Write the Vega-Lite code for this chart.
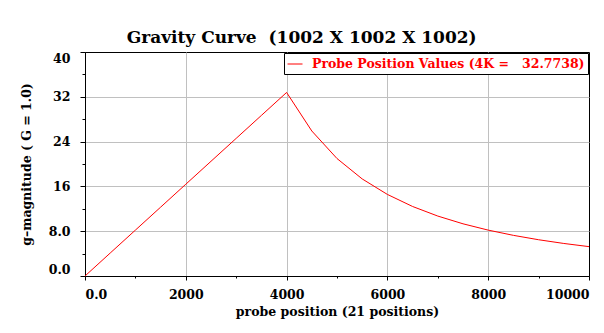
{
  "$schema": "https://vega.github.io/schema/vega-lite/v6.json",
  "autosize": {"type": "none"},
  "padding": {"left": 85, "top": 52, "right": 15, "bottom": 57},
  "width": 504,
  "height": 224,
  "background": "white",
  "title": {
    "text": "Gravity Curve\u00a0 (1002 X 1002 X 1002)",
    "font": "DejaVu Serif",
    "fontSize": 17,
    "fontWeight": "bold",
    "color": "black",
    "anchor": "middle",
    "frame": "bounds",
    "offset": 5,
    "dx": -4
  },
  "data": {
    "values": [
      {"position": 0, "g": 0.0, "series": "Probe Position Values (4K =\u00a0\u00a0 32.7738)"},
      {"position": 500, "g": 4.097, "series": "Probe Position Values (4K =\u00a0\u00a0 32.7738)"},
      {"position": 1000, "g": 8.193, "series": "Probe Position Values (4K =\u00a0\u00a0 32.7738)"},
      {"position": 1500, "g": 12.290, "series": "Probe Position Values (4K =\u00a0\u00a0 32.7738)"},
      {"position": 2000, "g": 16.387, "series": "Probe Position Values (4K =\u00a0\u00a0 32.7738)"},
      {"position": 2500, "g": 20.484, "series": "Probe Position Values (4K =\u00a0\u00a0 32.7738)"},
      {"position": 3000, "g": 24.580, "series": "Probe Position Values (4K =\u00a0\u00a0 32.7738)"},
      {"position": 3500, "g": 28.677, "series": "Probe Position Values (4K =\u00a0\u00a0 32.7738)"},
      {"position": 4000, "g": 32.7738, "series": "Probe Position Values (4K =\u00a0\u00a0 32.7738)"},
      {"position": 4500, "g": 25.895, "series": "Probe Position Values (4K =\u00a0\u00a0 32.7738)"},
      {"position": 5000, "g": 20.975, "series": "Probe Position Values (4K =\u00a0\u00a0 32.7738)"},
      {"position": 5500, "g": 17.335, "series": "Probe Position Values (4K =\u00a0\u00a0 32.7738)"},
      {"position": 6000, "g": 14.566, "series": "Probe Position Values (4K =\u00a0\u00a0 32.7738)"},
      {"position": 6500, "g": 12.411, "series": "Probe Position Values (4K =\u00a0\u00a0 32.7738)"},
      {"position": 7000, "g": 10.702, "series": "Probe Position Values (4K =\u00a0\u00a0 32.7738)"},
      {"position": 7500, "g": 9.322, "series": "Probe Position Values (4K =\u00a0\u00a0 32.7738)"},
      {"position": 8000, "g": 8.193, "series": "Probe Position Values (4K =\u00a0\u00a0 32.7738)"},
      {"position": 8500, "g": 7.258, "series": "Probe Position Values (4K =\u00a0\u00a0 32.7738)"},
      {"position": 9000, "g": 6.474, "series": "Probe Position Values (4K =\u00a0\u00a0 32.7738)"},
      {"position": 9500, "g": 5.810, "series": "Probe Position Values (4K =\u00a0\u00a0 32.7738)"},
      {"position": 10000, "g": 5.244, "series": "Probe Position Values (4K =\u00a0\u00a0 32.7738)"}
    ]
  },
  "mark": {"type": "line", "strokeWidth": 1, "interpolate": "linear"},
  "encoding": {
    "x": {
      "field": "position",
      "type": "quantitative",
      "scale": {"domain": [0, 10000], "nice": false, "zero": false},
      "axis": {
        "title": "probe position (21 positions)",
        "values": [0, 1000, 2000, 3000, 4000, 5000, 6000, 7000, 8000, 9000, 10000],
        "labelExpr": "datum.value % 2000 !== 0 ? '' : (datum.value === 0 ? '0.0' : format(datum.value, 'd'))",
        "tickSize": {"condition": {"test": "datum.value % 2000 === 0", "value": 4}, "value": 2},
        "gridOpacity": {"condition": {"test": "datum.value % 2000 === 0 && datum.value > 0 && datum.value < 10000", "value": 1}, "value": 0},
        "labelPadding": 8,
        "titlePadding": 5,
        "labelFlush": true,
        "labelOverlap": false
      }
    },
    "y": {
      "field": "g",
      "type": "quantitative",
      "scale": {"domain": [0, 40], "nice": false},
      "axis": {
        "title": "g\u2013magnitude ( G = 1.0)",
        "values": [0, 4, 8, 12, 16, 20, 24, 28, 32, 36, 40],
        "labelExpr": "datum.value % 8 !== 0 ? '' : (datum.value < 10 ? format(datum.value, '.1f') : format(datum.value, 'd'))",
        "tickSize": {"condition": {"test": "datum.value % 8 === 0", "value": 5}, "value": 3},
        "gridOpacity": {"condition": {"test": "datum.value % 8 === 0 && datum.value > 0 && datum.value < 40", "value": 1}, "value": 0},
        "labelPadding": 10,
        "titlePadding": 15,
        "labelFlush": true,
        "labelOverlap": false
      }
    },
    "color": {
      "field": "series",
      "type": "nominal",
      "scale": {"range": ["#ff0000"]},
      "legend": {
        "title": null,
        "orient": "top-right",
        "offset": 1,
        "padding": 3,
        "strokeColor": "black",
        "fillColor": "white",
        "labelColor": "#ff0000",
        "labelFont": "DejaVu Serif",
        "labelFontSize": 12.5,
        "labelFontWeight": "bold",
        "labelOffset": 9,
        "labelLimit": 400,
        "symbolType": "stroke",
        "symbolSize": 225,
        "symbolStrokeWidth": 1
      }
    }
  },
  "config": {
    "view": {"stroke": "black", "strokeWidth": 1},
    "axis": {
      "domainColor": "black",
      "domainWidth": 1,
      "tickColor": "black",
      "tickWidth": 1,
      "gridColor": "#c0c0c0",
      "gridWidth": 1,
      "labelColor": "black",
      "labelFont": "DejaVu Serif",
      "labelFontSize": 12.5,
      "labelFontWeight": "bold",
      "titleColor": "black",
      "titleFont": "DejaVu Serif",
      "titleFontSize": 12.5,
      "titleFontWeight": "bold"
    }
  }
}
